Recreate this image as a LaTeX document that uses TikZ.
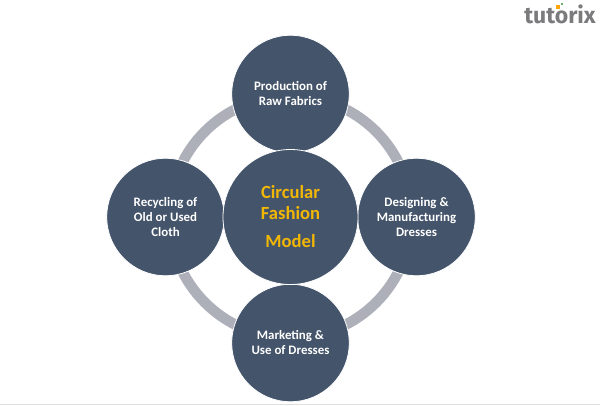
\documentclass[tikz,border=0pt]{standalone}
\usepackage{fontspec}
\setmainfont{Carlito}
\newfontfamily\logofont{Fira Sans}
\definecolor{disc}{HTML}{44546A}
\definecolor{ringc}{HTML}{ADB0B9}
\definecolor{gold}{HTML}{F2B705}
\definecolor{logog}{HTML}{7B7B7D}
\tikzset{
  x=1pt,y=-1pt,
  satellite/.style={circle,fill=disc,draw=white,line width=0.8pt,inner sep=0pt,minimum size=117.5pt,align=center,text=white,font=\fontsize{12.9}{15}\selectfont\bfseries},
  hub/.style={circle,fill=disc,draw=white,line width=0.8pt,inner sep=0pt,minimum size=135pt,align=center,text=gold,font=\fontsize{18.6}{21}\selectfont\bfseries},
  ringline/.style={draw=ringc,line width=10.5pt}
}
\begin{document}
\begin{tikzpicture}
\useasboundingbox (0,0) rectangle (600,406);
\fill[white] (0,0) rectangle (600,406);
\draw[ringline] (290.5,217) circle[radius=121];
\node[satellite] (top) at (290.5,94) {Production of\\Raw Fabrics};
\node[satellite] (right) at (416.5,217) {Designing \&\\Manufacturing\\Dresses};
\node[satellite] (left) at (165.5,217) {Recycling of\\Old or Used\\Cloth};
\node[satellite] (bottom) at (290.5,343) {Marketing \&\\Use of Dresses};
\node[hub] (hubn) at (290.5,217) {Circular\\Fashion\\[7pt]Model};
\draw[draw=black!12,line width=1.2pt] (0,404.5) -- (600,404.5);
\node[anchor=center,text=logog,font=\logofont\fontsize{23}{23}\selectfont\bfseries,inner sep=0pt] (logo) at (560,14) {tutorix};
\fill[orange!70!yellow] (556,5) rectangle (559.5,9);
\fill[green!50!black!60] (561,3) rectangle (563,5);
\end{tikzpicture}
\end{document}
